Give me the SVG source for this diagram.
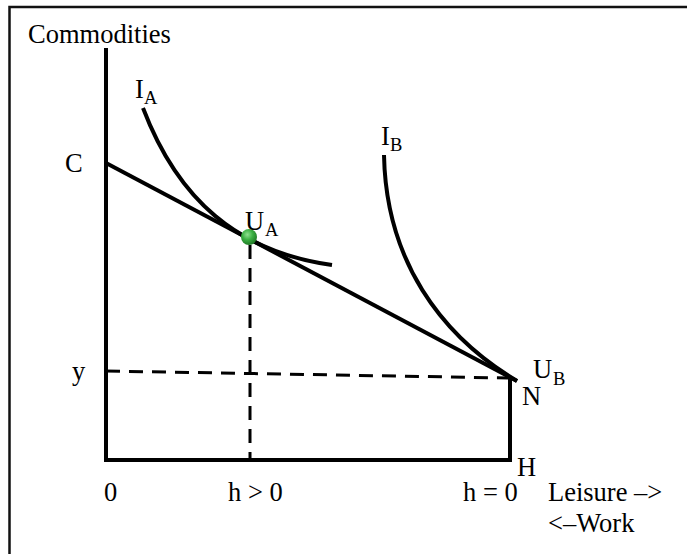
<svg xmlns="http://www.w3.org/2000/svg" width="687" height="554" viewBox="0 0 687 554">
<style>
text{font-family:"Liberation Serif","Times New Roman",serif;font-size:26.5px;fill:#000}
.sub{font-size:18.5px}
.ax{stroke:#000;stroke-width:4;fill:none}
.cv{stroke:#000;stroke-width:4;fill:none}
.dash{stroke:#000;stroke-width:3;fill:none;stroke-dasharray:14 9}
</style>
<defs>
<radialGradient id="g" cx="0.4" cy="0.35" r="0.65">
<stop offset="0" stop-color="#8fe08f"/>
<stop offset="0.5" stop-color="#3cb043"/>
<stop offset="1" stop-color="#1f7a25"/>
</radialGradient>
</defs>
<rect width="687" height="554" fill="#fff"/>
<rect x="9.5" y="7" width="700" height="600" fill="none" stroke="#111" stroke-width="2.5"/>
<g id="connectors">
<path class="dash" d="M106,371 L508,378"/>
<path class="dash" d="M250,245 L250,459"/>
<path class="ax" d="M106,48 L106,460 L510,460 L510,378"/>
<path class="cv" d="M106,163 L517,381"/>
<path class="cv" d="M143,108 C178,200 238,252 332,265"/>
<path class="cv" d="M384,155 C386,260 440,335 517,381"/>
</g>
<g id="label-commodities"><text x="28" y="43">Commodities</text></g>
<g id="point-C"><text x="65" y="172">C</text></g>
<g id="point-y"><text x="72" y="380">y</text></g>
<g id="curve-IA"><text x="135" y="98">I</text><text class="sub" x="144" y="104">A</text></g>
<g id="curve-IB"><text x="381" y="145">I</text><text class="sub" x="390" y="151">B</text></g>
<g id="point-UA"><circle cx="249" cy="237" r="8" fill="url(#g)"/><text x="245" y="230">U</text><text class="sub" x="265" y="236">A</text></g>
<g id="point-UB"><text x="533" y="378">U</text><text class="sub" x="553" y="385">B</text></g>
<g id="point-N"><text x="522" y="405">N</text></g>
<g id="point-H"><text x="517" y="476">H</text></g>
<g id="tick-0"><text x="104" y="501">0</text></g>
<g id="tick-hgt0"><text x="228" y="501">h &gt; 0</text></g>
<g id="tick-heq0"><text x="463" y="501">h = 0</text></g>
<g id="axis-label"><text x="548" y="501">Leisure –&gt;</text><text x="548" y="532">&lt;–Work</text></g>
</svg>
